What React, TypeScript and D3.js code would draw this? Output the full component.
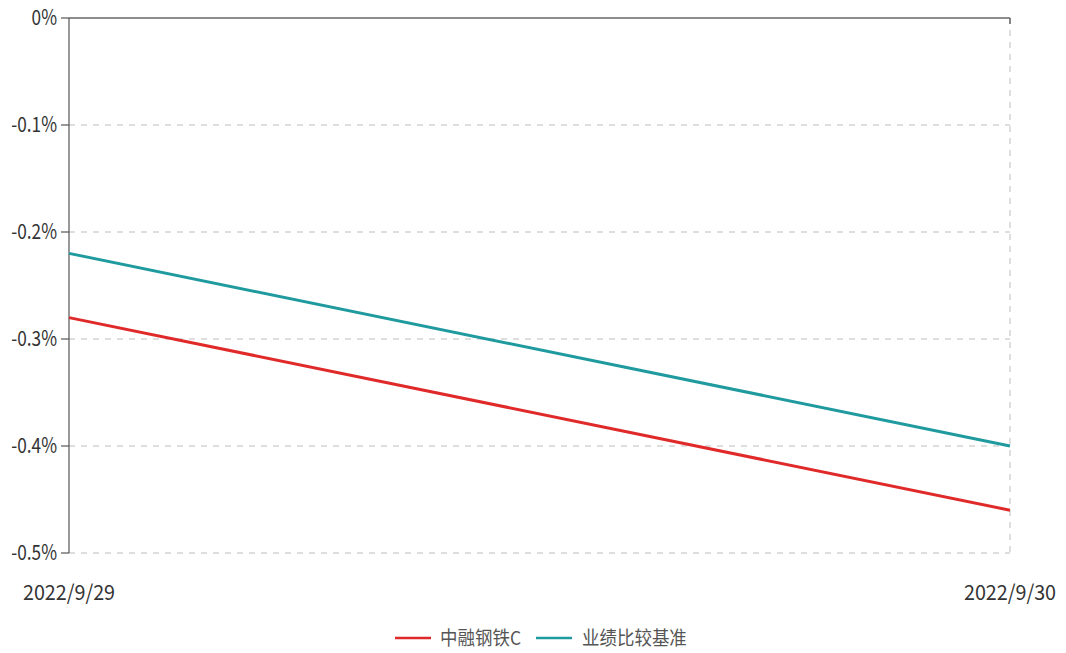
import React from "react";
import * as d3 from "d3";

const dates = ["2022/9/29", "2022/9/30"];
const fundValues = [-0.28, -0.46];
const benchValues = [-0.22, -0.4];
const yTicks = [0, -0.1, -0.2, -0.3, -0.4, -0.5];
const seriesNames = ["中融钢铁C", "业绩比较基准"];
const seriesColors = ["#e02a2a", "#1f9a9e"];

const W = 1066;
const H = 653;
const margin = { top: 18, right: 56, bottom: 100, left: 69 };
const font = "'Noto Sans CJK SC', 'Noto Sans', sans-serif";

// narrow text, the source chart uses a condensed face
const Narrow = ({
  x,
  y,
  anchor,
  size,
  fill,
  sx = 0.82,
  children,
}: {
  x: number;
  y: number;
  anchor: "start" | "middle" | "end";
  size: number;
  fill: string;
  sx?: number;
  children: React.ReactNode;
}) => (
  <text
    transform={`translate(${x},${y}) scale(${sx},1)`}
    textAnchor={anchor}
    dy="0.35em"
    fontSize={size}
    fill={fill}
  >
    {children}
  </text>
);

export default function App() {
  const x = d3
    .scalePoint<string>()
    .domain(dates)
    .range([margin.left, W - margin.right]);
  const y = d3
    .scaleLinear()
    .domain([-0.5, 0])
    .range([H - margin.bottom, margin.top]);

  const line = d3
    .line<number>()
    .x((_, i) => x(dates[i]) as number)
    .y((d) => y(d));

  const series = [fundValues, benchValues];
  const x0 = margin.left;
  const x1 = W - margin.right;

  return (
    <svg
      width={W}
      height={H}
      style={{ position: "absolute", left: 0, top: 0, background: "#fff" }}
      fontFamily={font}
    >
      {/* grid */}
      {yTicks.slice(1).map((t) => (
        <line
          key={t}
          x1={x0}
          x2={x1}
          y1={y(t)}
          y2={y(t)}
          stroke="#bdbdbd"
          strokeDasharray="6,6"
        />
      ))}
      <line
        x1={x1}
        x2={x1}
        y1={y(0)}
        y2={y(-0.5)}
        stroke="#bdbdbd"
        strokeDasharray="6,6"
      />
      {/* top border */}
      <line x1={x0} x2={x1} y1={y(0)} y2={y(0)} stroke="#666" strokeWidth={1.5} />
      <line x1={x1} x2={x1} y1={y(0)} y2={y(0) + 6} stroke="#666" strokeWidth={1.5} />
      {/* y axis */}
      <line x1={x0} x2={x0} y1={y(0)} y2={y(-0.5)} stroke="#555" strokeWidth={1.2} />
      {yTicks.map((t) => (
        <g key={t}>
          <line x1={x0 - 8} x2={x0} y1={y(t)} y2={y(t)} stroke="#555" strokeWidth={1.2} />
          <Narrow x={x0 - 12} y={y(t)} anchor="end" size={21} fill="#333">
            {t === 0 ? "0%" : `${t.toFixed(1)}%`}
          </Narrow>
        </g>
      ))}
      {/* x labels */}
      {dates.map((d) => (
        <Narrow key={d} x={x(d) as number} y={593} anchor="middle" size={21} sx={0.94} fill="#333">
          {d}
        </Narrow>
      ))}
      {/* lines */}
      {series.map((s, i) => (
        <path
          key={i}
          d={line(s) || ""}
          fill="none"
          stroke={seriesColors[i]}
          strokeWidth={3}
        />
      ))}
      {/* legend */}
      <line x1={395} x2={431} y1={638} y2={638} stroke={seriesColors[0]} strokeWidth={2.5} />
      <Narrow x={440} y={638} anchor="start" size={19} sx={0.92} fill="#555">
        {seriesNames[0]}
      </Narrow>
      <line x1={536} x2={572} y1={638} y2={638} stroke={seriesColors[1]} strokeWidth={2.5} />
      <Narrow x={582} y={638} anchor="start" size={19} sx={0.92} fill="#555">
        {seriesNames[1]}
      </Narrow>
    </svg>
  );
}
